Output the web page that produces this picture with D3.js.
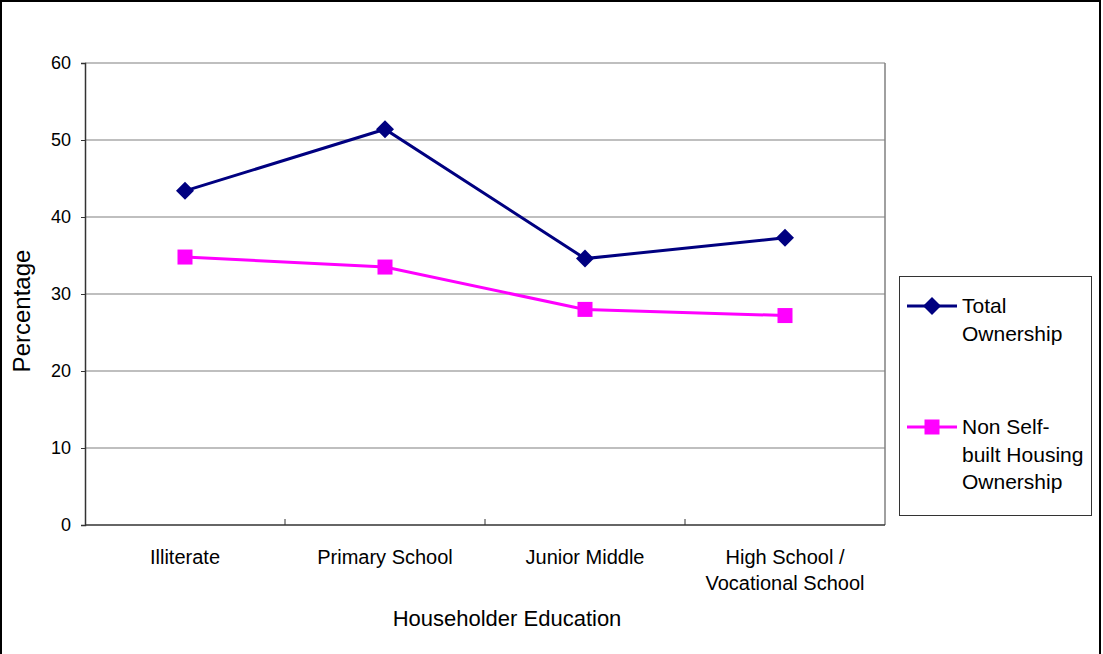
<!DOCTYPE html>
<html>
<head>
<meta charset="utf-8">
<script src="https://cdn.jsdelivr.net/npm/d3@7"></script>
<style>
  html, body { margin: 0; padding: 0; background: #fff; }
  svg { display: block; font-family: "Liberation Sans", Arial, sans-serif; }
</style>
</head>
<body>
<svg id="chart" width="1103" height="654"></svg>
<script>
// Household ownership rates by householder education level
const categories = ["Illiterate", "Primary School", "Junior Middle", "High School /\nVocational School"];
const totalOwnership = [43.4, 51.4, 34.6, 37.3];
const nonSelfBuilt = [34.8, 33.5, 28.0, 27.2];
const yTicks = [0, 10, 20, 30, 40, 50, 60];
const seriesNames = ["Total\nOwnership", "Non Self-\nbuilt Housing\nOwnership"];

const svg = d3.select("#chart");
const plot = { left: 85, top: 63, right: 885, bottom: 525 };

// outer frame
svg.append("rect").attr("x", 1).attr("y", 1).attr("width", 1099).attr("height", 660)
  .attr("fill", "none").attr("stroke", "#000").attr("stroke-width", 2);

const x = d3.scaleBand().domain(categories).range([plot.left, plot.right]);
const y = d3.scaleLinear().domain([0, 60]).range([plot.bottom, plot.top]);

// horizontal gridlines
svg.append("g").selectAll("line").data(yTicks.filter(d => d > 0)).join("line")
  .attr("x1", plot.left).attr("x2", plot.right)
  .attr("y1", d => y(d)).attr("y2", d => y(d))
  .attr("stroke", "#808080").attr("stroke-width", 1.2);

// plot-area right border
svg.append("line").attr("x1", plot.right).attr("x2", plot.right)
  .attr("y1", plot.top).attr("y2", plot.bottom)
  .attr("stroke", "#808080").attr("stroke-width", 1.5);

// y axis
const yAxis = svg.append("g").attr("transform", `translate(${plot.left},0)`)
  .call(d3.axisLeft(y).tickValues(yTicks).tickSize(4).tickPadding(10));
yAxis.select(".domain").attr("stroke", "#333").attr("stroke-width", 1.5);
yAxis.selectAll(".tick line").attr("stroke", "#333");
yAxis.selectAll(".tick text").attr("font-size", 18).attr("fill", "#000")
  .attr("font-family", "Liberation Sans, Arial, sans-serif");

// x axis with inward tick marks between categories
const xAxisG = svg.append("g");
xAxisG.append("line").attr("x1", plot.left).attr("x2", plot.right)
  .attr("y1", plot.bottom).attr("y2", plot.bottom)
  .attr("stroke", "#333").attr("stroke-width", 1.5);
const bounds = categories.map(c => x(c)).concat([plot.right]);
xAxisG.selectAll("line.tk").data(bounds.slice(1, -1)).join("line").attr("class", "tk")
  .attr("x1", d => d).attr("x2", d => d)
  .attr("y1", plot.bottom).attr("y2", plot.bottom - 6)
  .attr("stroke", "#333").attr("stroke-width", 1);

// category labels
categories.forEach(c => {
  const lines = c.split("\n");
  const t = svg.append("text").attr("x", x(c) + x.bandwidth() / 2).attr("y", 564)
    .attr("text-anchor", "middle").attr("font-size", 20).attr("fill", "#000");
  lines.forEach((ln, i) => t.append("tspan").attr("x", x(c) + x.bandwidth() / 2)
    .attr("dy", i === 0 ? 0 : 26).text(ln));
});

// axis titles
svg.append("text").attr("x", (plot.left + plot.right) / 2 + 22).attr("y", 626)
  .attr("text-anchor", "middle").attr("font-size", 22).text("Householder Education");
svg.append("text").attr("transform", `translate(30,${311}) rotate(-90)`)
  .attr("text-anchor", "middle").attr("font-size", 24).text("Percentage");

const cx = c => x(c) + x.bandwidth() / 2;
const line = d3.line().x(d => cx(d.c)).y(d => y(d.v));

const series = [
  { values: totalOwnership, color: "#000080", marker: "diamond" },
  { values: nonSelfBuilt, color: "#FF00FF", marker: "square" }
];

function drawMarker(g, type, px, py, color) {
  if (type === "diamond") {
    const r = 9;
    g.append("path").attr("d", `M${px},${py - r}L${px + r},${py}L${px},${py + r}L${px - r},${py}Z`)
      .attr("fill", color);
  } else {
    const s = 15;
    g.append("rect").attr("x", px - s / 2).attr("y", py - s / 2)
      .attr("width", s).attr("height", s).attr("fill", color);
  }
}

series.forEach(s => {
  const data = categories.map((c, i) => ({ c, v: s.values[i] }));
  svg.append("path").datum(data).attr("d", line)
    .attr("fill", "none").attr("stroke", s.color).attr("stroke-width", 3);
  const g = svg.append("g");
  data.forEach(d => drawMarker(g, s.marker, cx(d.c), y(d.v), s.color));
});

// legend
svg.append("rect").attr("x", 899.5).attr("y", 276.5).attr("width", 192).attr("height", 239)
  .attr("fill", "#fff").attr("stroke", "#333").attr("stroke-width", 1);
const legendRows = [{ y: 306 }, { y: 427 }];
series.forEach((s, i) => {
  const ly = legendRows[i].y;
  const g = svg.append("g");
  g.append("line").attr("x1", 907).attr("x2", 957).attr("y1", ly).attr("y2", ly)
    .attr("stroke", s.color).attr("stroke-width", 3);
  drawMarker(g, s.marker, 932, ly, s.color);
  const t = g.append("text").attr("x", 962).attr("y", ly + 7).attr("font-size", 21).attr("fill", "#000");
  seriesNames[i].split("\n").forEach((ln, k) => t.append("tspan").attr("x", 962)
    .attr("dy", k === 0 ? 0 : 27.5).text(ln));
});
</script>
</body>
</html>
